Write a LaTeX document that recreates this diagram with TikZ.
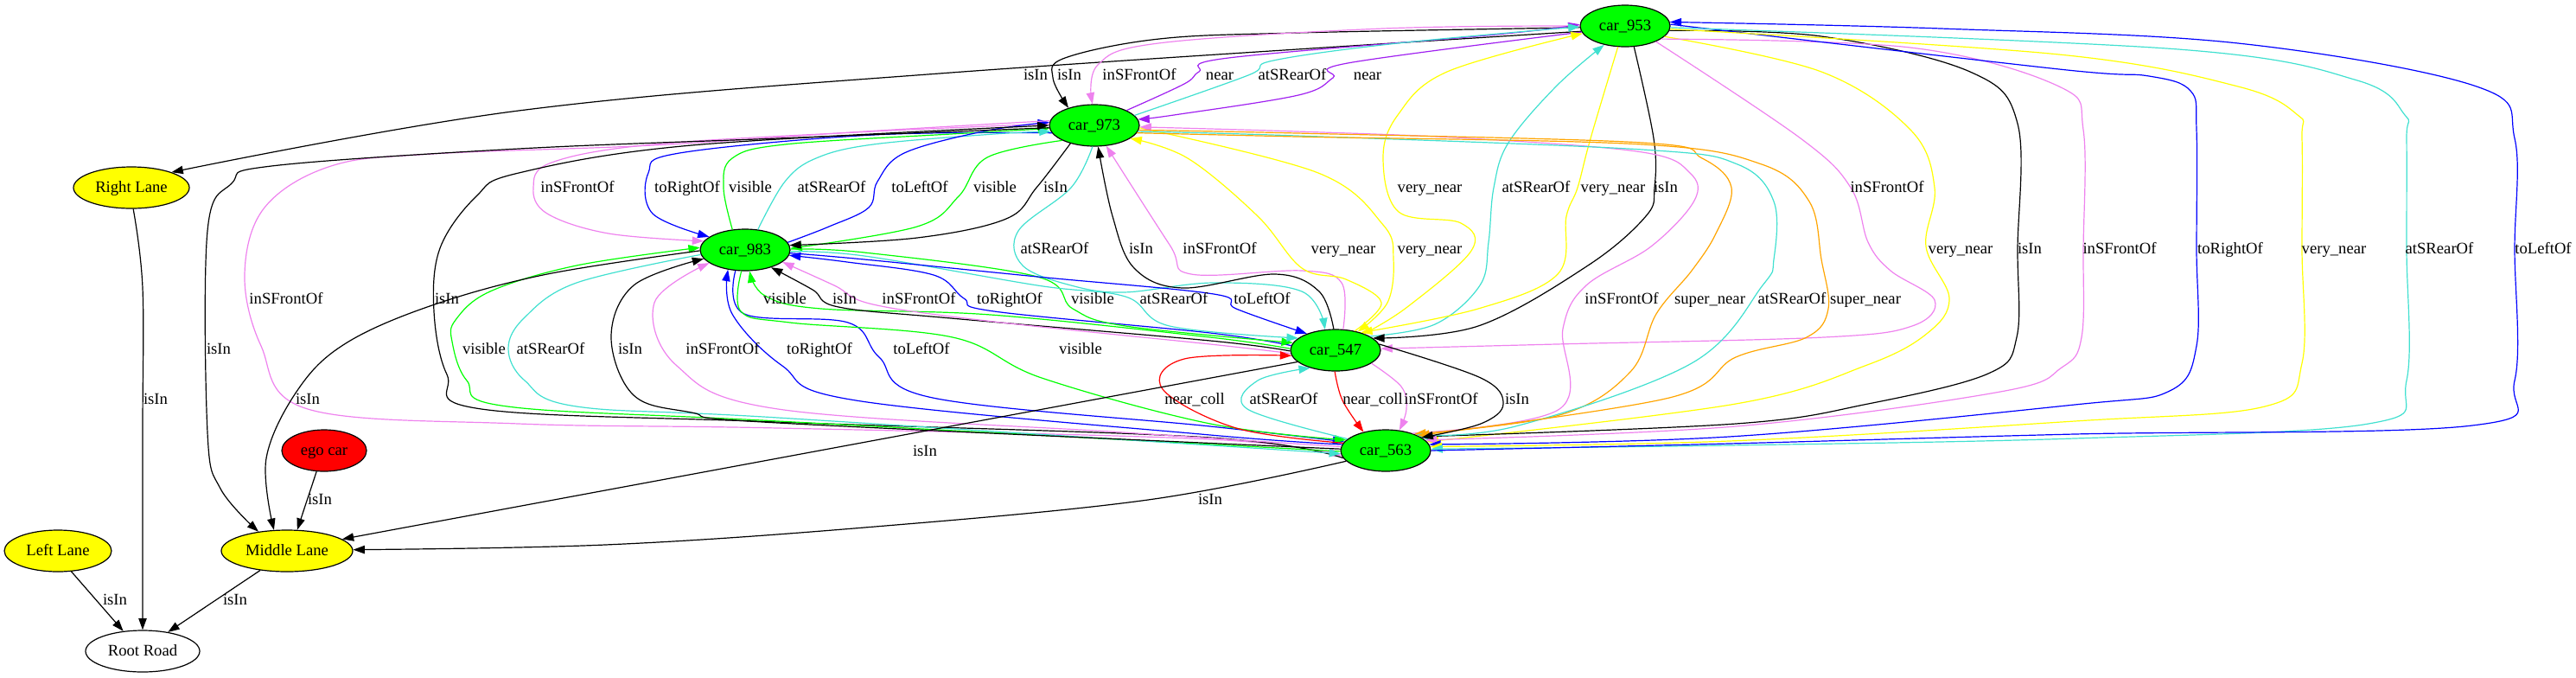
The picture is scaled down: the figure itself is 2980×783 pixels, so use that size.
\documentclass[tikz,border=0pt]{standalone}
\usepackage{fontspec}
\setmainfont{Liberation Serif}
\usetikzlibrary{shapes.geometric,arrows.meta}
\definecolor{cgreen}{RGB}{0,255,0}
\definecolor{cyellow}{RGB}{255,255,0}
\definecolor{cred}{RGB}{255,0,0}
\definecolor{cviolet}{RGB}{238,130,238}
\definecolor{cpurple}{RGB}{160,32,240}
\definecolor{cturq}{RGB}{64,224,208}
\definecolor{cblue}{RGB}{0,0,255}
\definecolor{corange}{RGB}{255,165,0}
\begin{document}
\begin{tikzpicture}[x=0.75pt,y=-0.75pt,
  every node/.style={font=\fontsize{14pt}{16pt}\selectfont},
  nd/.style={ellipse,draw,line width=0.9pt,inner sep=0pt,minimum height=36pt,text height=10pt,text depth=2pt},
  car/.style={nd,fill=cgreen,minimum width=78pt},
  lane/.style={nd,fill=cyellow},
  lbl/.style={inner sep=0pt,text height=10pt,text depth=2pt},
  E/.style={draw=#1,line width=0.9pt,-{Triangle[length=10pt,width=7pt]}},
  sm/.style={smooth,tension=0.6}]
\useasboundingbox (0,0) rectangle (2980,783);
% nodes
\node[car] (c953) at (1880,30) {car\_953};
\node[car] (c973) at (1266,145) {car\_973};
\node[car] (c983) at (862,289) {car\_983};
\node[car] (c547) at (1545,405) {car\_547};
\node[car] (c563) at (1603,521) {car\_563};
\node[nd,fill=cred,minimum width=73.5pt] (ego) at (375,521) {ego car};
\node[lane,minimum width=100.5pt] (RL) at (152,217) {Right Lane};
\node[lane,minimum width=114pt] (ML) at (332,637) {Middle Lane};
\node[lane,minimum width=93pt] (LL) at (67,637) {Left Lane};
\node[nd,fill=white,minimum width=99pt] (RR) at (165,753) {Root Road};

% 953 - 973 and 953 -> Right Lane
\draw[E=black] plot[sm] coordinates {(c953.187) (1100,84) (600,128) (RL.21)};
\draw[E=black] plot[sm] coordinates {(c953.182) (1500,38) (1341,45) (1232,67) (1218,90) (c973.146)};
\draw[E=cviolet] plot[sm] coordinates {(c953.180) (1600,33) (1340,50) (1270,75) (c973.95)};
\draw[E=cpurple] plot[sm] coordinates {(c973.25) (1370,97) (1387,83) (1421,67) (1731,40) (c953.178)};
\draw[E=cturq] plot[sm] coordinates {(c973.14) (1444,87) (1473,70) (1617,50) (c953.181)};
\draw[E=cpurple] plot[sm] coordinates {(c953.188) (1559,73) (1542,90) (1502,110) (1358,133) (c973.8)};

% 973 - 983
\draw[E=cviolet] plot[sm] coordinates {(c973.178) (1010,152) (755,167) (638,188) (617,217) (633,247) (704,270) (c983.168)};
\draw[E=cblue] plot[sm] coordinates {(c973.190) (1010,156) (786,177) (750,200) (755,247) (c983.160)};
\draw[E=cgreen] plot[sm] coordinates {(c983.122) (837,217) (847,183) (908,167) (1100,155) (c973.184)};
\draw[E=cturq] plot[sm] coordinates {(c983.58) (908,210) (944,183) (1010,167) (1150,155) (c973.188)};
\draw[E=cblue] plot[sm] coordinates {(c983.10) (959,262) (1005,240) (1015,210) (1046,177) (1137,152) (c973.176)};
\draw[E=cgreen] plot[sm] coordinates {(c973.205) (1142,182) (1109,227) (1061,262) (c983.2)};
\draw[E=black] plot[sm] coordinates {(c973.217) (1199,217) (1164,253) (1061,275) (c983.6)};

% 953 - 547
\draw[E=cyellow] plot[sm] coordinates {(c547.30) (1628,355) (1702,290) (1690,258) (1618,245) (1600,183) (1617,133) (1674,83) (c953.190)};
\draw[E=cturq] plot[sm] coordinates {(c547.22) (1660,375) (1712,330) (1722,280) (1728,217) (1745,165) (1800,100) (c953.222)};
\draw[E=cyellow] plot[sm] coordinates {(c953.251) (1840,160) (1825,217) (1812,250) (1802,317) (1710,357) (c547.35)};
\draw[E=black] plot[sm] coordinates {(c953.293) (1913,160) (1914,217) (1904,250) (1837,307) (1710,377) (c547.18)};
\draw[E=cviolet] plot[sm] coordinates {(c953.333) (2083,160) (2141,217) (2161,280) (2187,313) (2238,347) (2212,377) (2110,390) (1800,398) (c547.2)};

% 973 - 547
\draw[E=cturq] plot[sm] coordinates {(c973.265) (1239,217) (1178,267) (1183,307) (1239,330) (1300,338) (1404,327) (1506,337) (c547.117)};
\draw[E=black] plot[sm] coordinates {(c547.95) (1526,337) (1475,317) (1368,333) (1312,310) (1287,250) (c973.280)};
\draw[E=cviolet] plot[sm] coordinates {(c547.70) (1552,327) (1506,313) (1378,317) (1353,283) (c973.300)};
\draw[E=cyellow] plot[sm] coordinates {(c547.45) (1598,350) (1557,323) (1506,310) (1455,250) (1374,183) (c973.340)};
\draw[E=cyellow] plot[sm] coordinates {(c973.357) (1525,200) (1600,260) (1612,300) (1605,350) (c547.40)};

% 953 - 563 (right side)
\draw[E=cyellow] plot[sm] coordinates {(c953.345) (2107,83) (2210,150) (2238,217) (2228,285) (2255,345) (2230,385) (2160,422) (2008,467) (c563.12)};
\draw[E=black] plot[sm] coordinates {(c953.354) (2107,42) (2279,83) (2334,143) (2334,288) (2333,390) (2300,432) (2161,467) (2008,490) (c563.22)};
\draw[E=cviolet] plot[sm] coordinates {(c953.340) (2210,55) (2382,100) (2410,150) (2410,288) (2408,390) (2385,425) (2314,453) (2008,493) (c563.15)};
\draw[E=cblue] plot[sm] coordinates {(c953.2) (2382,80) (2486,88) (2534,105) (2541,150) (2541,288) (2541,400) (2510,452) (2400,468) (2000,505) (c563.8)};
\draw[E=cyellow] plot[sm] coordinates {(c953.356) (2382,63) (2589,100) (2658,133) (2663,160) (2663,288) (2663,420) (2620,470) (2400,487) (2000,510) (c563.5)};
\draw[E=cturq] plot[sm] coordinates {(c953.358) (2520,57) (2727,93) (2782,133) (2784,160) (2784,288) (2784,440) (2740,490) (2400,507) (2000,515) (c563.2)};
\draw[E=cblue] plot[sm] coordinates {(c563.0) (2000,513) (2400,502) (2860,492) (2909,440) (2909,288) (2909,160) (2865,100) (2589,50) (2245,33) (c953.5)};

% 973 - 563 (left loops)
\draw[E=cviolet] plot[sm] coordinates {(c973.174) (1000,152) (755,168) (500,178) (383,192) (306,240) (283,317) (302,400) (356,473) (600,490) (900,495) (1400,508) (c563.187)};
\draw[E=black] plot[sm] coordinates {(c563.190) (1400,506) (900,488) (557,473) (517,433) (502,360) (509,287) (551,227) (600,200) (800,168) (c973.180)};
\draw[E=black] plot[sm] coordinates {(c973.183) (900,160) (600,172) (314,192) (268,212) (240,267) (240,500) (255,565) (ML.146)};

% 973 - 563 (right)
\draw[E=cviolet] plot[sm] coordinates {(c563.33) (1804,473) (1808,380) (1835,330) (1910,285) (1960,232) (1955,200) (1900,176) (1700,160) (1500,152) (c973.358)};
\draw[E=corange] plot[sm] coordinates {(c973.354) (1500,154) (1900,165) (1969,183) (2003,217) (1985,270) (1957,313) (1916,363) (1886,430) (1804,480) (c563.30)};
\draw[E=cturq] plot[sm] coordinates {(c973.352) (1500,157) (1900,173) (2010,190) (2052,233) (2052,300) (2039,330) (1957,420) (1753,493) (c563.27)};
\draw[E=corange] plot[sm] coordinates {(c973.350) (1500,158) (1900,167) (2038,190) (2093,233) (2107,300) (2115,357) (2090,390) (2008,413) (1931,460) (c563.25)};

% 983 - 547
\draw[E=cgreen] plot[sm] coordinates {(c547.178) (1400,390) (1146,364) (950,357) (885,342) (c983.282)};
\draw[E=black] plot[sm] coordinates {(c547.181) (1400,394) (1100,368) (970,355) (940,335) (c983.326)};
\draw[E=cviolet] plot[sm] coordinates {(c547.184) (1400,398) (1150,372) (1010,352) (965,330) (c983.342)};
\draw[E=cblue] plot[sm] coordinates {(c547.174) (1400,385) (1150,360) (1115,345) (1080,318) (980,303) (c983.353)};
\draw[E=cgreen] plot[sm] coordinates {(c983.1) (1000,292) (1200,320) (1241,357) (1302,377) (c547.170)};
\draw[E=cturq] plot[sm] coordinates {(c983.358) (1000,296) (1200,330) (1302,343) (1353,377) (c547.162)};
\draw[E=cblue] plot[sm] coordinates {(c983.356) (1000,300) (1200,320) (1404,340) (1430,357) (c547.150)};

% 983 - 563
\draw[E=cgreen] plot[sm] coordinates {(c563.181) (900,487) (587,470) (540,440) (523,395) (527,370) (567,337) (667,307) (c983.177)};
\draw[E=cturq] plot[sm] coordinates {(c983.186) (667,327) (607,367) (588,403) (607,440) (667,470) (900,483) (c563.184)};
\draw[E=black] plot[sm] coordinates {(c563.178) (900,489) (800,477) (733,457) (707,390) (733,330) (c983.192)};
\draw[E=cviolet] plot[sm] coordinates {(c563.175) (1300,500) (900,473) (783,423) (757,350) (c983.200)};
\draw[E=cblue] plot[sm] coordinates {(c563.172) (1400,503) (990,463) (905,423) (847,363) (c983.229)};
\draw[E=cblue] plot[sm] coordinates {(c983.245) (861,363) (981,373) (1017,413) (1079,460) (1400,493) (c563.168)};
\draw[E=cgreen] plot[sm] coordinates {(c983.260) (857,360) (914,373) (1102,390) (1205,437) (1400,490) (c563.165)};

% 547 - 563
\draw[E=cred] plot[sm] coordinates {(c563.170) (1430,495) (1345,450) (1370,415) (c547.187)};
\draw[E=cturq] plot[sm] coordinates {(c563.163) (1443,473) (1455,440) (c547.215)};
\draw[E=cred] plot[sm] coordinates {(c547.268) (1553,463) (c563.140)};
\draw[E=cviolet] plot[sm] coordinates {(c547.340) (1621,447) (1627,473) (c563.56)};
\draw[E=black] plot[sm] coordinates {(c547.8) (1713,437) (1739,467) (1713,490) (c563.20)};

% lanes and road
\draw[E=black] plot[sm] coordinates {(c983.181) (633,317) (500,353) (400,397) (345,450) (308,530) (ML.122)};
\draw[E=black] (c547.197) -- (ML.12);
\draw[E=black] plot[sm] coordinates {(c563.195) (1328,578) (1000,610) (700,630) (ML.1)};
\draw[E=black] (ego.250) -- (ML.64);
\draw[E=black] plot[sm] coordinates {(RL.275) (165,333) (165,500) (RR.90)};
\draw[E=black] (LL.303) -- (RR.134);
\draw[E=black] (ML.216) -- (RR.37);

% labels row 87
\node[lbl] (t1) at (1198,87) {isIn};
\node[lbl] (t2) at (1237,87) {isIn};
\node[lbl] (t3) at (1318,87) {inSFrontOf};
\node[lbl] (t4) at (1411,87) {near};
\node[lbl] (t5) at (1495,87) {atSRearOf};
\node[lbl] (t6) at (1582,87) {near};
% row 217
\node[lbl] (t7) at (668,217) {inSFrontOf};
\node[lbl] (t8) at (795,217) {toRightOf};
\node[lbl] (t9) at (868,217) {visible};
\node[lbl] (t10) at (962,217) {atSRearOf};
\node[lbl] (t11) at (1064,217) {toLeftOf};
\node[lbl] (t12) at (1151,217) {visible};
\node[lbl] (t13) at (1221,217) {isIn};
\node[lbl] (t14) at (1654,217) {very\_near};
\node[lbl] (t15) at (1777,217) {atSRearOf};
\node[lbl] (t16) at (1866,217) {very\_near};
\node[lbl] (t17) at (1927,217) {isIn};
\node[lbl] (t18) at (2183,217) {inSFrontOf};
% row 288
\node[lbl] (t19) at (1220,288) {atSRearOf};
\node[lbl] (t20) at (1320,288) {isIn};
\node[lbl] (t21) at (1411,288) {inSFrontOf};
\node[lbl] (t22) at (1554,288) {very\_near};
\node[lbl] (t23) at (1654,288) {very\_near};
\node[lbl] (t24) at (2268,288) {very\_near};
\node[lbl] (t25) at (2348,288) {isIn};
\node[lbl] (t26) at (2452,288) {inSFrontOf};
\node[lbl] (t27) at (2580,288) {toRightOf};
\node[lbl] (t28) at (2700,288) {very\_near};
\node[lbl] (t29) at (2822,288) {atSRearOf};
\node[lbl] (t30) at (2942,288) {toLeftOf};
% row 346
\node[lbl] (t31) at (331,346) {inSFrontOf};
\node[lbl] (t32) at (517,346) {isIn};
\node[lbl] (t33) at (908,346) {visible};
\node[lbl] (t34) at (977,346) {isIn};
\node[lbl] (t35) at (1063,346) {inSFrontOf};
\node[lbl] (t36) at (1168,346) {toRightOf};
\node[lbl] (t37) at (1264,346) {visible};
\node[lbl] (t38) at (1358,346) {atSRearOf};
\node[lbl] (t39) at (1460,346) {toLeftOf};
\node[lbl] (t40) at (1876,346) {inSFrontOf};
\node[lbl] (t41) at (1978,346) {super\_near};
\node[lbl] (t42) at (2073,346) {atSRearOf};
\node[lbl] (t43) at (2158,346) {super\_near};
% row 404
\node[lbl] (t44) at (253,404) {isIn};
\node[lbl] (t45) at (560,404) {visible};
\node[lbl] (t46) at (637,404) {atSRearOf};
\node[lbl] (t47) at (729,404) {isIn};
\node[lbl] (t48) at (836,404) {inSFrontOf};
\node[lbl] (t49) at (948,404) {toRightOf};
\node[lbl] (t50) at (1066,404) {toLeftOf};
\node[lbl] (t51) at (1250,404) {visible};
% row 462
\node[lbl] (t52) at (180,462) {isIn};
\node[lbl] (t53) at (356,462) {isIn};
\node[lbl] (t54) at (1382,462) {near\_coll};
\node[lbl] (t55) at (1485,462) {atSRearOf};
\node[lbl] (t56) at (1588,462) {near\_coll};
\node[lbl] (t57) at (1667,462) {inSFrontOf};
\node[lbl] (t58) at (1755,462) {isIn};
% lower rows
\node[lbl] (t59) at (1070,522) {isIn};
\node[lbl] (t60) at (370,578) {isIn};
\node[lbl] (t61) at (1400,578) {isIn};
\node[lbl] (t62) at (133,694) {isIn};
\node[lbl] (t63) at (272,694) {isIn};
\end{tikzpicture}
\end{document}
